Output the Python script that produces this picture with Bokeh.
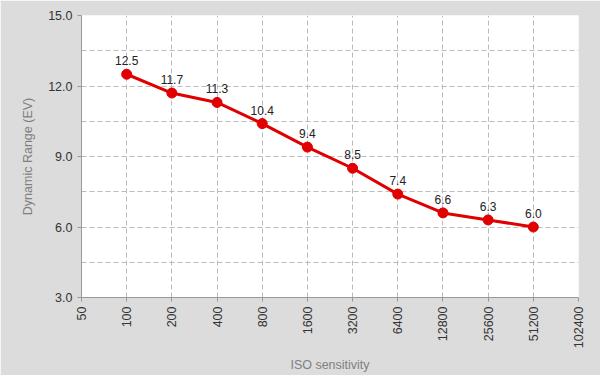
import math
from bokeh.plotting import figure
from bokeh.models import FixedTicker, ColumnDataSource, LabelSet, NumeralTickFormatter
from bokeh.core.properties import value
from bokeh.embed import file_html
from bokeh.resources import INLINE

iso = [100, 200, 400, 800, 1600, 3200, 6400, 12800, 25600, 51200]
dr = [12.5, 11.7, 11.3, 10.4, 9.4, 8.5, 7.4, 6.6, 6.3, 6.0]
x_ticks = [50, 100, 200, 400, 800, 1600, 3200, 6400, 12800, 25600, 51200, 102400]
y_ticks = [3.0, 6.0, 9.0, 12.0, 15.0]
y_minor = [4.5, 7.5, 10.5, 13.5]

src = ColumnDataSource(dict(x=iso, y=dr, lab=["%.1f" % v for v in dr]))

p = figure(width=600, height=375, x_axis_type="log", x_range=(50, 102400), y_range=(3, 15),
           output_backend="svg", toolbar_location=None,
           min_border_left=81, min_border_right=22, min_border_top=15, min_border_bottom=76)
p.background_fill_color = "white"
p.border_fill_color = "#dcdcdc"
p.outline_line_color = None

p.xaxis.ticker = FixedTicker(ticks=x_ticks)
p.xaxis.major_label_overrides = {t: str(t) for t in x_ticks}
p.xaxis.major_label_orientation = math.pi / 2
p.yaxis.ticker = FixedTicker(ticks=y_ticks, minor_ticks=y_minor)
p.yaxis.formatter = NumeralTickFormatter(format="0.0")

for ax in (p.xaxis, p.yaxis):
    ax.axis_line_color = "#999999"
    ax.major_tick_line_color = "#999999"
    ax.major_tick_out = 4
    ax.major_tick_in = 0
    ax.minor_tick_line_color = None
    ax.major_label_text_font = "Liberation Sans"
    ax.major_label_text_font_size = "12.5px"
    ax.major_label_text_color = "#333333"
    ax.axis_label_text_font = "Liberation Sans"
    ax.axis_label_text_font_size = "12.5px"
    ax.axis_label_text_font_style = "normal"
    ax.axis_label_text_color = "#808080"

p.xaxis.axis_label = "ISO sensitivity"
p.yaxis.axis_label = "Dynamic Range (EV)"
p.xaxis.axis_label_standoff = 7
p.yaxis.axis_label_standoff = 10

p.xgrid.ticker = FixedTicker(ticks=x_ticks)
p.ygrid.ticker = FixedTicker(ticks=y_ticks, minor_ticks=y_minor)
for g in (p.xgrid, p.ygrid):
    g.grid_line_color = "#bbbbbb"
    g.grid_line_dash = "5 3"
    g.grid_line_width = 1
p.ygrid.minor_grid_line_color = "#bbbbbb"
p.ygrid.minor_grid_line_dash = "5 3"

p.line("x", "y", source=src, line_color="#e00000", line_width=3)
p.scatter("x", "y", source=src, size=10, fill_color="#e00000", line_color="#e00000")

labels = LabelSet(x="x", y="y", text="lab", source=src, text_align="center", y_offset=9,
                  text_font=value("Liberation Sans"), text_font_size="12px", text_color="#222222")
p.add_layout(labels)

open("out.html", "w").write(file_html(p, INLINE))
